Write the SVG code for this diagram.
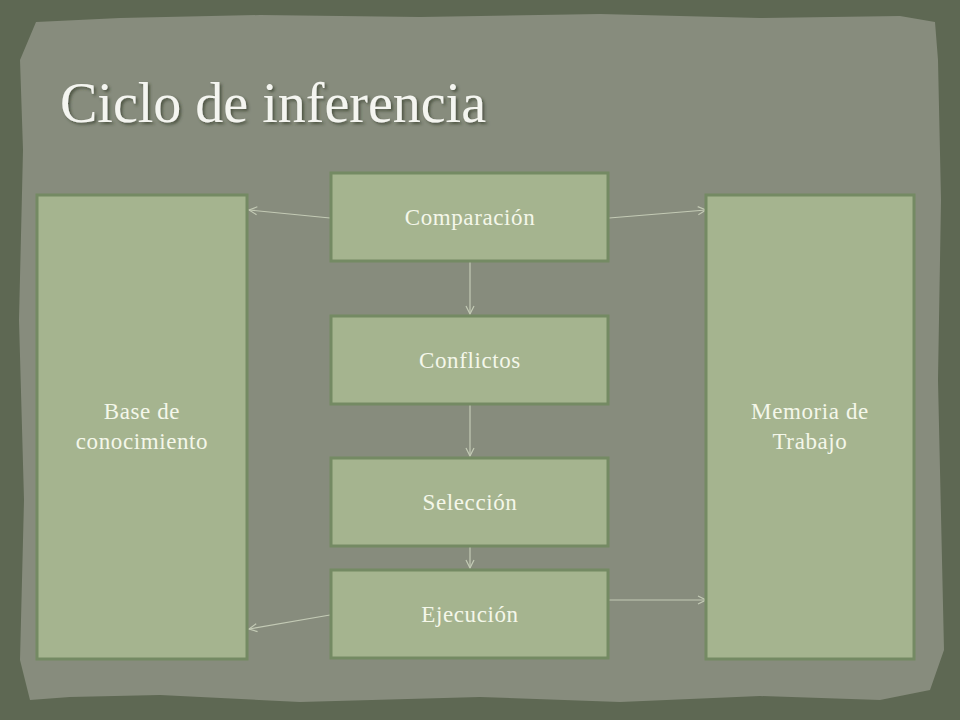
<svg xmlns="http://www.w3.org/2000/svg" width="960" height="720" viewBox="0 0 960 720">
<defs>
<style>
.box{fill:#a5b48f;stroke:#748a63;stroke-width:3}
.lbl{font-family:"Liberation Serif",serif;font-size:23px;letter-spacing:0.6px;fill:#f4f7ea;text-anchor:middle}
.con{stroke:#c3cab5;stroke-width:1.2;fill:none;marker-end:url(#ah)}
</style>
<marker id="ah" viewBox="0 0 10 10" refX="9" refY="5" markerWidth="10" markerHeight="10" markerUnits="userSpaceOnUse" orient="auto">
<path d="M1,1 L9,5 L1,9" fill="none" stroke="#c3cab5" stroke-width="1.2"/>
</marker>
<filter id="sh" x="-5%" y="-20%" width="110%" height="140%">
<feDropShadow dx="2" dy="2" stdDeviation="1.5" flood-color="#333a2c" flood-opacity="0.7"/>
</filter>
</defs>
<rect width="960" height="720" fill="#5e6853"/>
<path d="M36,22 L120,18 L260,15 L420,17 L600,14 L760,18 L900,16 L935,22 L938,60 L941,200 L938,380 L942,560 L944,650 L930,690 L880,700 L760,696 L620,702 L480,697 L300,702 L160,695 L70,697 L30,700 L20,660 L24,500 L19,320 L23,150 L20,60 Z" fill="#878c7d"/>
<text x="60" y="122" font-family="Liberation Serif,serif" font-size="56" fill="#f4f5f0" filter="url(#sh)">Ciclo de inferencia</text>
<g id="connectors">
<line class="con" x1="330" y1="218" x2="249" y2="210"/>
<line class="con" x1="609" y1="218" x2="706" y2="210"/>
<line class="con" x1="470" y1="262" x2="470" y2="314"/>
<line class="con" x1="470" y1="405" x2="470" y2="456"/>
<line class="con" x1="470" y1="547" x2="470" y2="568"/>
<line class="con" x1="330" y1="615" x2="249" y2="629"/>
<line class="con" x1="609" y1="600" x2="706" y2="600"/>
</g>
<g id="base">
<rect class="box" x="37" y="195" width="210" height="464"/>
<text class="lbl" x="142" y="419">Base de</text>
<text class="lbl" x="142" y="449">conocimiento</text>
</g>
<g id="memoria">
<rect class="box" x="706" y="195" width="208" height="464"/>
<text class="lbl" x="810" y="419">Memoria de</text>
<text class="lbl" x="810" y="449">Trabajo</text>
</g>
<g id="comparacion">
<rect class="box" x="331" y="173" width="277" height="88"/>
<text class="lbl" x="470" y="225">Comparación</text>
</g>
<g id="conflictos">
<rect class="box" x="331" y="316" width="277" height="88"/>
<text class="lbl" x="470" y="368">Conflictos</text>
</g>
<g id="seleccion">
<rect class="box" x="331" y="458" width="277" height="88"/>
<text class="lbl" x="470" y="510">Selección</text>
</g>
<g id="ejecucion">
<rect class="box" x="331" y="570" width="277" height="88"/>
<text class="lbl" x="470" y="622">Ejecución</text>
</g>
</svg>
